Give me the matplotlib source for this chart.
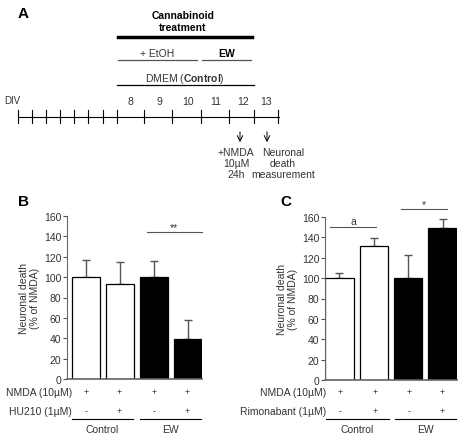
import matplotlib
matplotlib.use("Agg")
import matplotlib.pyplot as plt
import numpy as np

plt.rcParams['font.family'] = ['Liberation Sans', 'DejaVu Sans']
plt.rcParams['mathtext.fontset'] = 'custom'
plt.rcParams['mathtext.rm'] = 'Liberation Sans'
plt.rcParams['mathtext.bf'] = 'Liberation Sans:bold'

# panel B data
b_vals = [100, 93, 100, 39]
b_err = [17, 22, 16, 19]
b_colors = ['white', 'white', 'black', 'black']
b_row1 = ['+', '+', '+', '+']
b_row2 = ['-', '+', '-', '+']

# panel C data
c_vals = [100, 132, 100, 149]
c_err = [5, 7, 23, 9]
c_colors = ['white', 'white', 'black', 'black']
c_row1 = ['+', '+', '+', '+']
c_row2 = ['-', '+', '-', '+']

yticks = [0, 20, 40, 60, 80, 100, 120, 140, 160]
days = [8, 9, 10, 11, 12, 13]
tick_px = [18, 32, 46, 60, 74, 88, 103, 117, 144, 172, 201, 229, 254, 278]
day_px = [130, 159, 188, 216, 243, 266]

W, H = 470, 435
fig = plt.figure(figsize=(W / 100, H / 100), dpi=100)

fs = 7.5


def px_axes(x0, x1, ytop, ybot):
    return fig.add_axes([x0 / W, 1 - ybot / H, (x1 - x0) / W, (ybot - ytop) / H])


def bar_panel(ax, vals, errs, colors, xlim):
    x = np.arange(len(vals))
    ax.bar(x, vals, width=0.83, color=colors, edgecolor='black', linewidth=0.9, zorder=2)
    ax.errorbar(x, vals, yerr=[np.zeros(len(errs)), errs], fmt='none', ecolor='#555555',
                elinewidth=1.0, capsize=3, capthick=1.0, zorder=1)
    ax.set_xlim(*xlim)
    ax.set_ylim(0, 160)
    ax.set_yticks(yticks)
    ax.set_xticks([])
    ax.tick_params(axis='y', labelsize=fs, length=3, width=0.8, color='#555555',
                   labelcolor='#333333', pad=1)
    for s in ['top', 'right', 'bottom']:
        ax.spines[s].set_visible(False)
    ax.spines['left'].set_color('#666666')
    ax.set_ylabel('Neuronal death\n(% of NMDA)', fontsize=fs, color='#333333', labelpad=3,
                  linespacing=1.1)
    ax.plot([xlim[0], xlim[1]], [0, 0], color='#666666', lw=1.2, clip_on=False)


axB = px_axes(67, 202, 217, 380)
bar_panel(axB, b_vals, b_err, b_colors, (-0.56, 3.42))
axC = px_axes(325, 457, 218, 381)
bar_panel(axC, c_vals, c_err, c_colors, (-0.42, 3.42))

# overlay in pixel coordinates, on top of the bar panels
ov = fig.add_axes([0, 0, 1, 1], zorder=10)
ov.patch.set_alpha(0)
ov.set_xlim(0, W)
ov.set_ylim(H, 0)
ov.axis('off')

# panel letters
for lab, x, y in [('A', 18, 14), ('B', 18, 202), ('C', 280, 202)]:
    ov.text(x, y, lab, fontsize=11, fontweight='bold', va='center')

# === Panel A timeline ===
ov.plot([18, 279], [118, 118], color='black', lw=0.8)
for x in tick_px:
    ov.plot([x, x], [111, 124], color='black', lw=0.8)
for d, x in zip(days, day_px):
    ov.text(x, 102, str(d), fontsize=fs, ha='center', va='center', color='#333333')
ov.text(4, 101, 'DIV', fontsize=fs - 0.5, va='center', color='#333333')
ov.text(183, 22, 'Cannabinoid\ntreatment', fontsize=fs, fontweight='bold',
        ha='center', va='center', linespacing=1.2)
ov.plot([118, 252], [38, 38], color='black', lw=2.5)
ov.text(157, 54, '+ EtOH', fontsize=fs, ha='center', va='center', color='#333333')
ov.plot([118, 197], [61, 61], color='#555555', lw=0.9)
ov.text(227, 54, 'EW', fontsize=fs, fontweight='bold', ha='center', va='center')
ov.plot([202, 251], [61, 61], color='#555555', lw=0.9)
ov.text(185, 79, r'DMEM ($\mathbf{Control}$)', fontsize=fs, ha='center', va='center',
        color='#333333')
ov.plot([117, 254], [86, 86], color='black', lw=0.9)
for x in [240, 267]:
    ov.annotate('', xy=(x, 146), xytext=(x, 130),
                arrowprops=dict(arrowstyle='->', color='black', lw=0.7))
ov.text(236, 164, '+NMDA\n10µM\n24h', fontsize=fs, ha='center', va='center',
        linespacing=1.1, color='#333333')
ov.text(283, 164, 'Neuronal\ndeath\nmeasurement', fontsize=fs, ha='center',
        va='center', linespacing=1.1, color='#333333')

# significance lines
ov.plot([147, 202], [233, 233], color='#555555', lw=0.8)
ov.text(174, 228, '**', fontsize=fs, ha='center', va='center', color='#333333')
ov.plot([330, 376], [228, 228], color='#555555', lw=0.8)
ov.text(353, 222, 'a', fontsize=fs, ha='center', va='center', color='#333333')
ov.plot([401, 447], [210, 210], color='#555555', lw=0.8)
ov.text(424, 205, '*', fontsize=fs, ha='center', va='center', color='#333333')

# treatment rows below the bars
bx = [86, 119, 154, 187]
cx = [340, 375, 409, 442]
for xs, r1, r2, lab2, xr in [(bx, b_row1, b_row2, 'HU210 (1µM)', 72),
                             (cx, c_row1, c_row2, 'Rimonabant (1µM)', 326)]:
    ov.text(xr, 393, 'NMDA (10µM)', fontsize=fs, ha='right', va='center', color='#333333')
    ov.text(xr, 412, lab2, fontsize=fs, ha='right', va='center', color='#333333')
    for x, a, b in zip(xs, r1, r2):
        ov.text(x, 393, a, fontsize=fs - 1, ha='center', va='center', color='#333333')
        ov.text(x, 412, b, fontsize=fs - 1, ha='center', va='center', color='#333333')
    ov.plot([xs[0] - 14, xs[1] + 14], [420, 420], color='black', lw=0.8)
    ov.plot([xs[2] - 14, xs[3] + 14], [420, 420], color='black', lw=0.8)
    ov.text((xs[0] + xs[1]) / 2, 430, 'Control', fontsize=fs, ha='center', va='center',
            color='#333333')
    ov.text((xs[2] + xs[3]) / 2, 430, 'EW', fontsize=fs, ha='center', va='center',
            color='#333333')

fig.savefig('out.png', dpi=100)
